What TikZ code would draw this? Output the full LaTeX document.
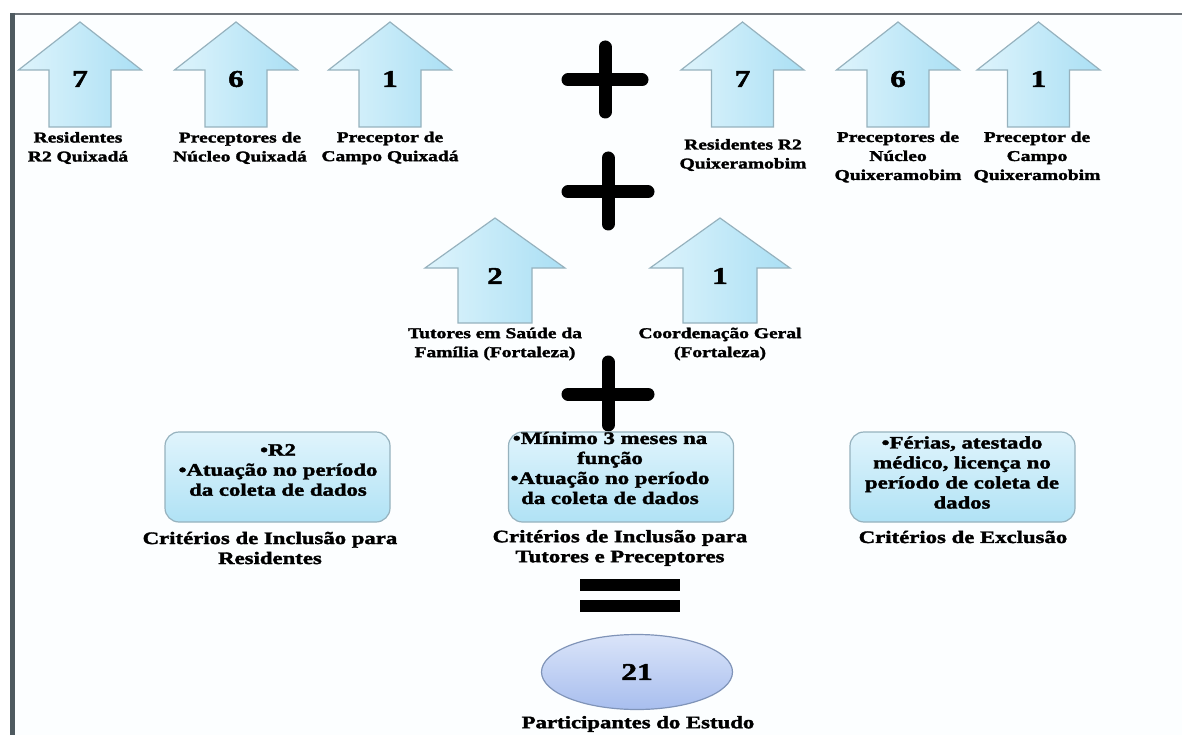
\documentclass[tikz,border=0pt]{standalone}
\usepackage{fontspec}
\usetikzlibrary{shapes.geometric}
\newfontfamily\lbl{Liberation Serif}[FakeStretch=1.3,BoldFeatures={FakeBold=2}]
\definecolor{arrL}{RGB}{222,244,252}
\definecolor{arrR}{RGB}{170,223,244}
\definecolor{arrE}{RGB}{150,178,190}
\definecolor{boxT}{RGB}{224,244,252}
\definecolor{boxB}{RGB}{176,226,245}
\definecolor{ellT}{RGB}{218,228,249}
\definecolor{ellB}{RGB}{168,190,238}
\definecolor{ellE}{RGB}{128,148,184}
\definecolor{frameL}{RGB}{78,90,96}
\definecolor{frameT}{RGB}{110,116,122}
\definecolor{inside}{RGB}{252,254,255}
\tikzset{
  arrbody/.style={left color=arrL, right color=arrR, draw=arrE, line width=1.2pt, line join=miter},
  numtxt/.style={font=\lbl\bfseries\fontsize{24}{24}\selectfont, inner sep=0pt},
  toplbl/.style={font=\lbl\bfseries\fontsize{15}{19}\selectfont, align=center, inner sep=0pt},
  boxlbl/.style={font=\lbl\bfseries\fontsize{17.5}{20}\selectfont, align=center, inner sep=0pt},
  critbox/.style={rounded corners=14pt, draw=arrE, line width=1.2pt, top color=boxT, bottom color=boxB, minimum width=225pt, minimum height=90pt, inner sep=0pt},
  ellbox/.style={ellipse, draw=ellE, line width=1.2pt, top color=ellT, bottom color=ellB, minimum width=191pt, minimum height=75pt, inner sep=0pt, font=\lbl\bfseries\fontsize{24}{24}\selectfont},
  plusbar/.style={line width=13pt, line cap=round, draw=black},
  eqbar/.style={fill=black},
}
% center x, apex y, half wing, half shaft, head base y, bottom y
\newcommand\UpArr[6]{%
  \path[arrbody] ({#1},{#2}) -- ({#1+#3},{#5}) -- ({#1+#4},{#5}) -- ({#1+#4},{#6})
    -- ({#1-#4},{#6}) -- ({#1-#4},{#5}) -- ({#1-#3},{#5}) -- cycle;}
\begin{document}
\begin{tikzpicture}[x=1pt,y=-1pt]
\useasboundingbox (0,0) rectangle (1182,735);
\fill[white] (0,0) rectangle (1182,735);
\fill[inside] (12,14) rectangle (1182,735);
% frame
\draw[line width=2.5pt, frameT] (10,14) -- (1182,14);
\draw[line width=5pt, frameL] (12,13) -- (12,735);

% top row arrows
\UpArr{80}{22}{61.5}{31}{70}{127}
\UpArr{236}{22}{61.5}{31}{70}{127}
\UpArr{390}{22}{61.5}{31}{70}{127}
\UpArr{742.5}{22}{61.5}{31}{70}{127}
\UpArr{898}{22}{61.5}{31}{70}{127}
\UpArr{1038.5}{22}{61.5}{31}{70}{127}
\node[numtxt] (n1) at (80,79) {7};
\node[numtxt] (n2) at (236,79) {6};
\node[numtxt] (n3) at (390,79) {1};
\node[numtxt] (n4) at (742.5,79) {7};
\node[numtxt] (n5) at (898,79) {6};
\node[numtxt] (n6) at (1038.5,79) {1};

\node[toplbl] (l1) at (78,148) {Residentes\\R2 Quixadá};
\node[toplbl] (l2) at (240,148) {Preceptores de\\Núcleo Quixadá};
\node[toplbl] (l3) at (390,148) {Preceptor de\\Campo Quixadá};
\node[toplbl] (l4) at (743,155) {Residentes R2\\Quixeramobim};
\node[toplbl] (l5) at (898,157) {Preceptores de\\Núcleo\\Quixeramobim};
\node[toplbl] (l6) at (1037,157) {Preceptor de\\Campo\\Quixeramobim};

% plus signs
\draw[plusbar] (568,80) -- (642,80);
\draw[plusbar] (605,47) -- (605,112);
\draw[plusbar] (568,192) -- (648,192);
\draw[plusbar] (608,158) -- (608,224);
\draw[plusbar] (568,394) -- (648,394);
\draw[plusbar] (608,362) -- (608,425);

% middle row arrows
\UpArr{495}{218}{70}{37}{268}{323}
\UpArr{720}{218}{70}{37}{268}{323}
\node[numtxt] (n7) at (495,276) {2};
\node[numtxt] (n8) at (720,276) {1};
\node[toplbl] (l7) at (495,344) {Tutores em Saúde da\\Família (Fortaleza)};
\node[toplbl] (l8) at (720,344) {Coordenação Geral\\(Fortaleza)};

% criteria boxes
\node[critbox] (b1) at (277.5,477) {};
\node[critbox] (b2) at (621,477) {};
\node[critbox] (b3) at (962.5,477) {};
\node[boxlbl] (t1) at (278,470) {•R2\\•Atuação no período\\da coleta de dados};
\node[boxlbl] (t2) at (610,468) {•Mínimo 3 meses na\\função\\•Atuação no período\\da coleta de dados};
\node[boxlbl] (t3) at (962,472.5) {•Férias, atestado\\médico, licença no\\período de coleta de\\dados};
\node[boxlbl] (c1) at (270,548) {Critérios de Inclusão para\\Residentes};
\node[boxlbl] (c2) at (620,548) {Critérios de Inclusão para\\Tutores e Preceptores};
\node[boxlbl] (c3) at (963,537) {Critérios de Exclusão};

% equals sign
\path[eqbar] (580,579) rectangle (680,591);
\path[eqbar] (580,600) rectangle (680,612);

% result
\node[ellbox] (e) at (637,672) {21};
\node[boxlbl] (p) at (638,724) {Participantes do Estudo};
\end{tikzpicture}
\end{document}
